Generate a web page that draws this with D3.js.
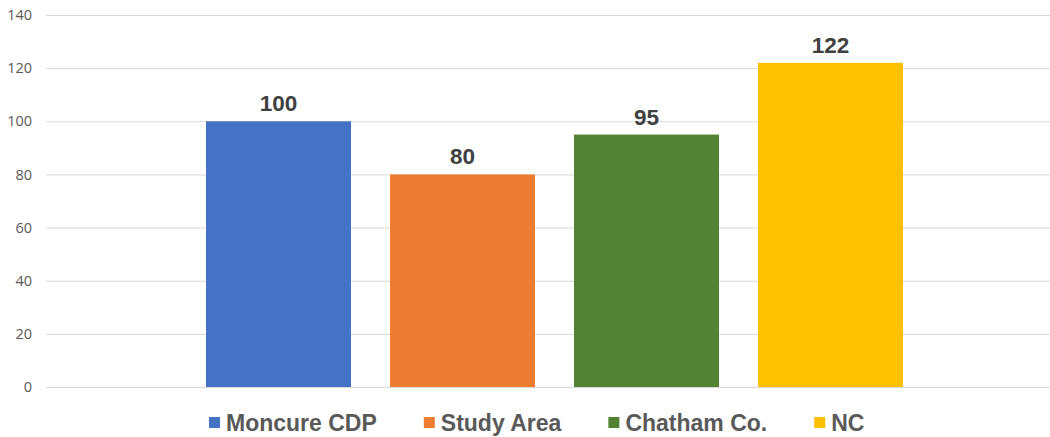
<!DOCTYPE html>
<html>
<head>
<meta charset="utf-8">
<script src="https://cdn.jsdelivr.net/npm/d3@7"></script>
<style>
  html, body { margin: 0; padding: 0; background: #fff; }
  svg { display: block; }
</style>
</head>
<body>
<svg id="chart" width="1050" height="437"></svg>
<script>
// Bar chart data
const categories = ["Moncure CDP", "Study Area", "Chatham Co.", "NC"];
const values = [100, 80, 95, 122];
const colors = ["#4472C4", "#ED7D31", "#548235", "#FFC000"];
const yTicks = [0, 20, 40, 60, 80, 100, 120, 140];

const svg = d3.select("#chart");
const W = 1050;

const y = d3.scaleLinear().domain([0, 140]).range([387, 15]);
const x = d3.scaleBand()
  .domain(categories)
  .range([186.5, 922.5])
  .paddingInner(0.212)
  .paddingOuter(0.106);

// Gridlines and tick labels
const axis = d3.axisLeft(y).tickValues(yTicks).tickSize(0).tickPadding(14);
const gAxis = svg.append("g").attr("transform", "translate(46,0)").call(axis);
gAxis.select(".domain").remove();
gAxis.selectAll(".tick line")
  .attr("x2", W - 46)
  .attr("stroke", "#d9d9d9")
  .attr("stroke-width", 1);
gAxis.selectAll(".tick text")
  .attr("fill", "#595959")
  .attr("font-family", "'Open Sans', 'Noto Sans', sans-serif")
  .attr("font-size", 14.5);

// Bars
svg.append("g").selectAll("rect")
  .data(categories)
  .join("rect")
  .attr("x", d => x(d))
  .attr("width", x.bandwidth())
  .attr("y", (d, i) => y(values[i]))
  .attr("height", (d, i) => y(0) - y(values[i]))
  .attr("fill", (d, i) => colors[i]);

// Value labels
svg.append("g").selectAll("text")
  .data(categories)
  .join("text")
  .attr("x", d => x(d) + x.bandwidth() / 2)
  .attr("y", (d, i) => y(values[i]) - 10)
  .attr("text-anchor", "middle")
  .attr("font-family", "'Liberation Sans', Arial, sans-serif")
  .attr("font-weight", "bold")
  .attr("font-size", 22.5)
  .attr("fill", "#404040")
  .text((d, i) => values[i]);

// Legend
const legend = svg.append("g");
const items = legend.selectAll("g")
  .data(categories)
  .join("g");
items.append("rect")
  .attr("width", 11).attr("height", 11)
  .attr("y", 417)
  .attr("fill", (d, i) => colors[i]);
items.append("text")
  .attr("x", 17)
  .attr("y", 431)
  .attr("font-family", "'Liberation Sans', Arial, sans-serif")
  .attr("font-weight", "bold")
  .attr("font-size", 23)
  .attr("fill", "#595959")
  .text(d => d);

let cx = 0;
const offsets = [];
items.each(function () {
  offsets.push(cx);
  const w = d3.select(this).select("text").node().getComputedTextLength();
  cx += 17 + w + 47;
});
items.attr("transform", (d, i) => `translate(${209 + offsets[i]},0)`);
</script>
</body>
</html>
